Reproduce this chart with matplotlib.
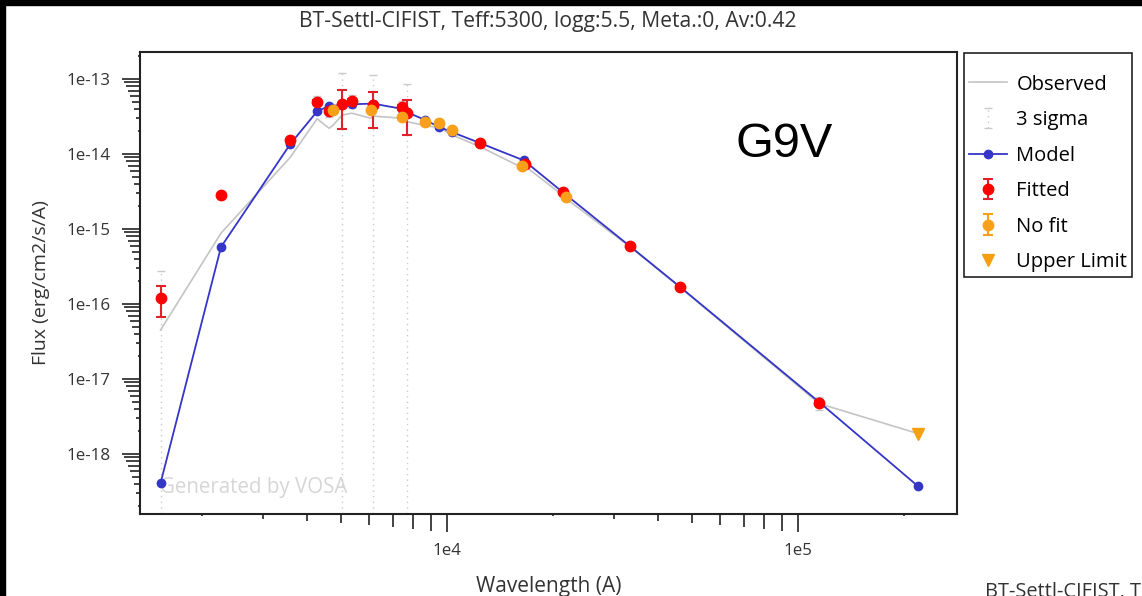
import matplotlib
matplotlib.use("Agg")
import matplotlib.pyplot as plt
import numpy as np
from matplotlib.ticker import LogLocator, FuncFormatter, NullFormatter
from matplotlib.patches import Rectangle

plt.rcParams['font.family'] = ['Open Sans', 'DejaVu Sans']

title = "BT-Settl-CIFIST, Teff:5300, logg:5.5, Meta.:0, Av:0.42"

# model SED (blue)
model_wl = [1528, 2271, 3575, 4266, 4615, 5025, 5357, 6152, 7444, 7700, 8655,
            9490, 10333, 12420, 16570, 21544, 33200, 46130, 115000, 220000]
model_flux = [4.1e-19, 5.75e-16, 1.35e-14, 3.7e-14, 4.37e-14, 4.5e-14, 4.6e-14,
              4.7e-14, 4.0e-14, 3.6e-14, 2.85e-14, 2.3e-14, 1.96e-14, 1.40e-14,
              8.2e-15, 3.0e-15, 5.9e-16, 1.69e-16, 4.9e-18, 3.7e-19]

# fitted photometry (red)
fit_wl = [1528, 2271, 3575, 4266, 4615, 5025, 5357, 6163, 7444, 7700, 12420,
          16680, 21400, 33200, 46130, 114900]
fit_flux = [1.2e-16, 2.84e-15, 1.54e-14, 4.93e-14, 3.74e-14, 4.64e-14, 5.1e-14,
            4.5e-14, 4.2e-14, 3.5e-14, 1.40e-14, 7.36e-15, 3.1e-15, 5.93e-16,
            1.69e-16, 4.79e-18]
fit_err = [5.3e-17, 1e-16, 6e-16, 3.5e-15, 2e-15, 2.5e-14, 3.3e-15, 2.3e-14,
           3e-15, 1.7e-14, 4e-16, 2e-16, 8e-17, 1.5e-17, 4e-18, 3e-19]

# photometry not used in the fit (orange)
nofit_wl = [4730, 6060, 7444, 8655, 9490, 10333, 16360, 21830]
nofit_flux = [3.87e-14, 3.87e-14, 3.1e-14, 2.67e-14, 2.6e-14, 2.09e-14, 7.0e-15, 2.67e-15]

uplim_wl = [220000]
uplim_flux = [1.87e-18]

# observed (not dereddened) fluxes
obs_wl = [1528, 2271, 3575, 4266, 4615, 4730, 5025, 5357, 6060, 6163, 7444, 7700,
          8655, 9490, 10333, 12420, 16360, 16680, 21400, 21830, 33200, 46130,
          114900, 220000]
obs_flux = [4.5e-17, 8.8e-16, 9e-15, 2.95e-14, 2.2e-14, 2.4e-14, 3.3e-14, 3.5e-14,
            3.0e-14, 3.2e-14, 3.0e-14, 2.7e-14, 2.4e-14, 2.25e-14, 1.8e-14,
            1.25e-14, 6.6e-15, 6.9e-15, 2.8e-15, 2.55e-15, 5.8e-16, 1.67e-16,
            4.7e-18, 1.87e-18]

W, H = 1142, 596
fig = plt.figure(figsize=(W / 100, H / 100), dpi=100)
fig.patch.set_facecolor('white')
ax = fig.add_axes([140 / W, 1 - 514 / H, (957 - 140) / W, (514 - 52) / H])

# black strips at the top and left of the screenshot
fig.add_artist(Rectangle((0, 1 - 5 / H), 1, 5 / H, transform=fig.transFigure,
                         color='black', zorder=10))
fig.add_artist(Rectangle((0, 0), 5 / W, 1, transform=fig.transFigure,
                         color='black', zorder=10))

obs_line, = ax.plot(obs_wl, obs_flux, color='#c4c4c4', lw=1.2, zorder=2)

f = np.array(fit_flux)
e = np.array(fit_err)
low = np.maximum(f - 3 * e, 1e-30)
sig = ax.errorbar(fit_wl, fit_flux, yerr=[f - low, 3 * e], fmt='none',
                  ecolor='#cacaca', elinewidth=1.0, capsize=3, capthick=1.0, zorder=1)
sig[2][0].set_linestyle((0, (1, 3)))

model_line, = ax.plot(model_wl, model_flux, color='#3535c8', lw=1.3, marker='o',
                      ms=6, zorder=3)

fit = ax.errorbar(fit_wl, fit_flux, yerr=fit_err, fmt='o', color='#ff0000',
                  ecolor='#e0202a', ms=7.5, elinewidth=1.5, capsize=3.5,
                  capthick=1.5, zorder=4)
nofit = ax.errorbar(nofit_wl, nofit_flux, yerr=[0] * len(nofit_wl), fmt='o',
                    color='#f9a01b', ecolor='#f9a01b', ms=7.5, elinewidth=1.5,
                    capsize=3.5, capthick=1.5, zorder=5)
up, = ax.plot(uplim_wl, uplim_flux, 'v', color='#f5a010', ms=8, ls='none', zorder=5)

ax.set_xscale('log')
ax.set_yscale('log')
ax.set_xlim(1335, 283800)
ax.set_ylim(10 ** -18.8, 10 ** -12.64)

for axis in (ax.xaxis, ax.yaxis):
    axis.set_major_locator(LogLocator(base=10, numticks=100))
    axis.set_minor_locator(LogLocator(base=10, subs=np.arange(2, 10), numticks=100))
    axis.set_minor_formatter(NullFormatter())
    axis.set_major_formatter(FuncFormatter(lambda v, p: "1e%d" % round(np.log10(v))))

ax.tick_params(which='both', direction='out', width=1.2, color='#222222',
               labelcolor='#333333', labelsize=12.2, pad=8)
ax.tick_params(which='major', length=13)
ax.tick_params(which='minor', length=6)

# minor ticks grow toward the next decade
for axis in (ax.xaxis, ax.yaxis):
    locs = axis.get_minorticklocs()
    for t, v in zip(axis.get_minor_ticks(len(locs)), locs):
        k = round(v / 10 ** np.floor(np.log10(v) + 1e-9))
        t.tick1line.set_markersize((2 * k - 1.5) * 0.72)

for s in ax.spines.values():
    s.set_linewidth(1.5)
    s.set_color('#222222')

ax.set_xlabel("Wavelength (A)", fontsize=15, color='#333333', labelpad=12)
ax.set_ylabel("Flux (erg/cm2/s/A)", fontsize=14, color='#333333', labelpad=12)

ax.text(0.025, 0.058, "Generated by VOSA", transform=ax.transAxes, fontsize=14.8,
        color='#d6d6d6', va='center', ha='left', zorder=0)

fig.text(548 / W, 1 - 22 / H, title, ha='center', va='center', fontsize=15.2,
         color='#333333')
fig.text(735 / W, 1 - 157 / H, "G9V", ha='left', va='baseline', fontsize=35,
         family='Liberation Sans', color='black')
fig.text(985 / W, 1 - 582 / H, title, ha='left', va='top', fontsize=14.4,
         color='#333333')

leg = ax.legend([obs_line, sig, model_line, fit, nofit, up],
                ["Observed", "3 sigma", "Model", "Fitted", "No fit", "Upper Limit"],
                loc='upper left', bbox_to_anchor=(964 / W, 1 - 53 / H),
                bbox_transform=fig.transFigure, borderaxespad=0, fancybox=False,
                edgecolor='#222222', framealpha=1, fontsize=14.5, labelspacing=0.77,
                handlelength=1.9, handletextpad=0.45, borderpad=0.25,
                title=' ', title_fontsize=1)
leg.get_frame().set_linewidth(1.2)

fig.savefig("out.png", dpi=100)
